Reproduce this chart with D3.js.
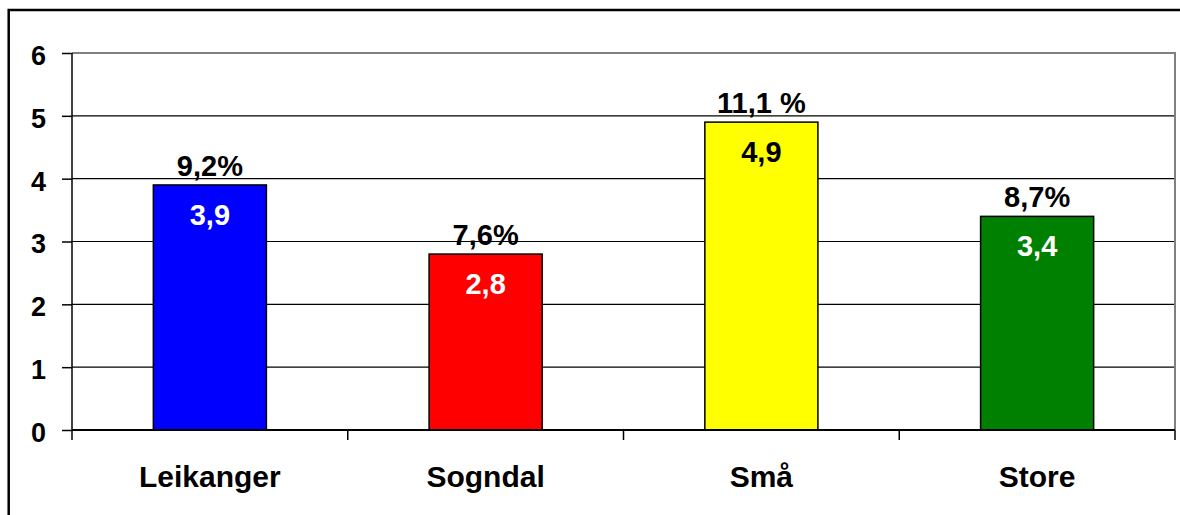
<!DOCTYPE html>
<html>
<head>
<meta charset="utf-8">
<script src="https://cdn.jsdelivr.net/npm/d3@7/dist/d3.min.js"></script>
<style>
  html, body { margin: 0; padding: 0; background: #fff; }
  svg { display: block; }
  text { font-family: "Liberation Sans", Arial, sans-serif; font-weight: bold; }
</style>
</head>
<body>
<svg id="chart" width="1180" height="515"></svg>
<script>
// Data
const categories = ["Leikanger", "Sogndal", "Små", "Store"];
const values = [3.9, 2.8, 4.9, 3.4];
const valueLabels = ["3,9", "2,8", "4,9", "3,4"];
const percentLabels = ["9,2%", "7,6%", "11,1 %", "8,7%"];
const barColors = ["#0000ff", "#ff0000", "#ffff00", "#008000"];
const valueLabelColors = ["#ffffff", "#ffffff", "#000000", "#ffffff"];
const yTicks = [0, 1, 2, 3, 4, 5, 6];

const svg = d3.select("#chart");
const plot = { left: 72, right: 1175, top: 53, bottom: 430 };

// Outer frame
svg.append("rect")
  .attr("x", 8.7).attr("y", 10)
  .attr("width", 1300).attr("height", 700)
  .attr("fill", "none").attr("stroke", "#000").attr("stroke-width", 2.5);

const x = d3.scaleBand()
  .domain(categories)
  .range([plot.left, plot.right])
  .paddingInner(0.59)
  .paddingOuter(0.295);

const y = d3.scaleLinear().domain([0, 6]).range([plot.bottom, plot.top]);

// Gridlines
svg.append("g").selectAll("line")
  .data(yTicks.filter(t => t > 0 && t < 6))
  .join("line")
  .attr("x1", plot.left).attr("x2", plot.right)
  .attr("y1", d => y(d)).attr("y2", d => y(d))
  .attr("stroke", "#000").attr("stroke-width", 1.2);

// Plot area border (top and right)
svg.append("path")
  .attr("d", `M${plot.left},${y(6)}H${plot.right}V${plot.bottom}`)
  .attr("fill", "none").attr("stroke", "#808080").attr("stroke-width", 2);

// Bars
svg.append("g").selectAll("rect")
  .data(categories)
  .join("rect")
  .attr("x", d => x(d))
  .attr("y", (d, i) => y(values[i]))
  .attr("width", x.bandwidth())
  .attr("height", (d, i) => y(0) - y(values[i]))
  .attr("fill", (d, i) => barColors[i])
  .attr("stroke", "#000").attr("stroke-width", 1.5);

// Y axis
const yAxis = svg.append("g")
  .attr("transform", `translate(${plot.left},0)`)
  .call(d3.axisLeft(y).tickValues(yTicks).tickSize(10).tickPadding(16).tickFormat(d3.format("d")));
yAxis.select(".domain").attr("stroke", "#000").attr("stroke-width", 1.5).attr("d", `M0,${plot.top}V${plot.bottom + 10}`);
yAxis.selectAll(".tick line").attr("stroke", "#000").attr("stroke-width", 1.5);
yAxis.selectAll(".tick text")
  .attr("font-size", 27).attr("fill", "#000")
  .attr("font-family", "'Liberation Sans', Arial, sans-serif").attr("font-weight", "bold")
  .attr("dy", "0.42em");

// X axis with ticks at category boundaries
const xAxisG = svg.append("g");
xAxisG.append("line")
  .attr("x1", plot.left).attr("x2", plot.right)
  .attr("y1", plot.bottom).attr("y2", plot.bottom)
  .attr("stroke", "#000").attr("stroke-width", 1.8);
xAxisG.selectAll("line.tick")
  .data(d3.range(1, categories.length + 1))
  .join("line").attr("class", "tick")
  .attr("x1", i => plot.left + i * x.step()).attr("x2", i => plot.left + i * x.step())
  .attr("y1", plot.bottom).attr("y2", plot.bottom + 10)
  .attr("stroke", "#000").attr("stroke-width", 1.5);
xAxisG.selectAll("text")
  .data(categories)
  .join("text")
  .attr("x", d => x(d) + x.bandwidth() / 2)
  .attr("y", 487)
  .attr("text-anchor", "middle")
  .attr("font-size", 30).attr("fill", "#000")
  .text(d => d);

// Percentage labels above bars
svg.append("g").selectAll("text")
  .data(categories)
  .join("text")
  .attr("x", d => x(d) + x.bandwidth() / 2)
  .attr("y", (d, i) => y(values[i]) - 9)
  .attr("text-anchor", "middle")
  .attr("font-size", 29).attr("fill", "#000")
  .text((d, i) => percentLabels[i]);

// Value labels inside bars
svg.append("g").selectAll("text")
  .data(categories)
  .join("text")
  .attr("x", d => x(d) + x.bandwidth() / 2)
  .attr("y", (d, i) => y(values[i]) + 40)
  .attr("text-anchor", "middle")
  .attr("font-size", 29)
  .attr("fill", (d, i) => valueLabelColors[i])
  .text((d, i) => valueLabels[i]);
</script>
</body>
</html>
